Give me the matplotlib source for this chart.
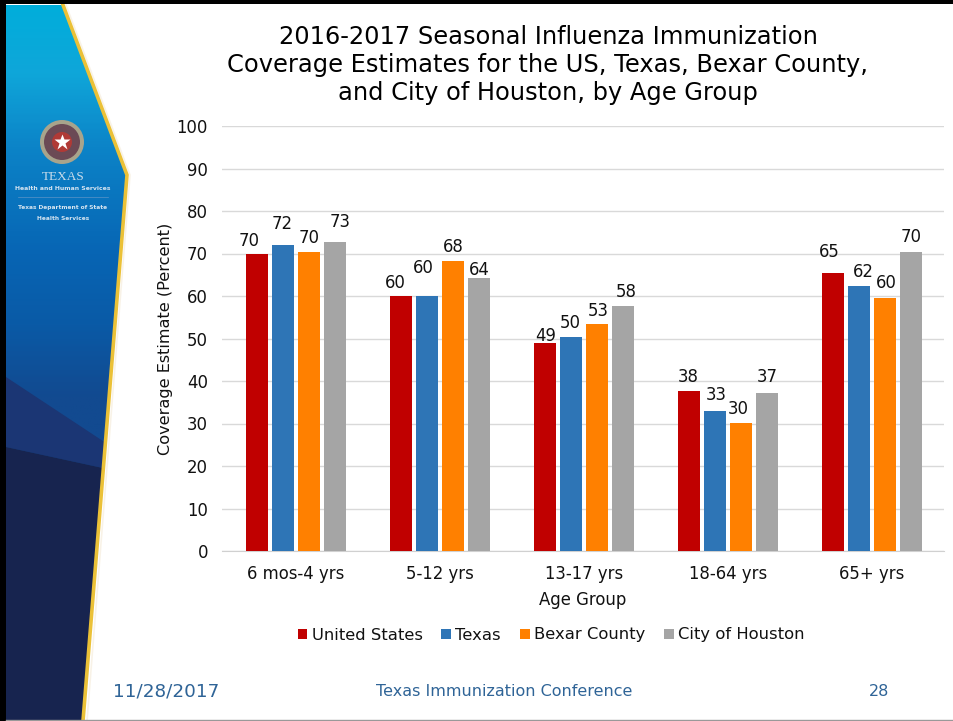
import numpy as np
import matplotlib
matplotlib.use("Agg")
import matplotlib.pyplot as plt
from matplotlib.colors import LinearSegmentedColormap
from matplotlib.patches import Polygon, Circle, Rectangle

# data
age_groups = ["6 mos-4 yrs", "5-12 yrs", "13-17 yrs", "18-64 yrs", "65+ yrs"]
united_states = [70, 60, 48.9, 37.6, 65.4]
texas = [72, 60, 50.4, 33, 62.3]
bexar = [70.4, 68.2, 53.4, 30.1, 59.5]
houston = [72.8, 64.2, 57.7, 37.2, 70.4]
us_labels = ["70", "60", "49", "38", "65"]
tx_labels = ["72", "60", "50", "33", "62"]
bx_labels = ["70", "68", "53", "30", "60"]
hou_labels = ["73", "64", "58", "37", "70"]
series_names = ["United States", "Texas", "Bexar County", "City of Houston"]
colors = ["#C00000", "#2E75B6", "#FF8000", "#A5A5A5"]
yticks = np.arange(0, 101, 10)

plt.rcParams["font.family"] = ["DejaVu Sans"]
W, H = 954, 721
fig = plt.figure(figsize=(W / 100, H / 100), dpi=100)

# slide background, in pixel coordinates
bg = fig.add_axes([0, 0, 1, 1])
bg.set_xlim(0, W)
bg.set_ylim(H, 0)
bg.axis("off")

panel_cmap = LinearSegmentedColormap.from_list("panel", [
    (0.0, "#00AEDB"), (0.1, "#0FA6D9"), (0.2, "#0C84C8"), (0.35, "#0765B4"),
    (0.45, "#0A5AA6"), (0.55, "#124A90"), (1.0, "#124A90")])
grad = np.linspace(0, 1, 400).reshape(-1, 1)
img = bg.imshow(grad, cmap=panel_cmap, extent=[6, 135, H, 0], aspect="auto", zorder=1)
edge = [(6, 5), (63, 5), (127, 175), (83, H), (6, H)]
clip = Polygon(edge, closed=True, transform=bg.transData, fc="none", ec="none")
bg.add_patch(clip)
img.set_clip_path(clip)
# darker facets low on the panel
wedge = Polygon([(6, 377), (112, 447), (112, 470), (6, 447)], fc="#1B3674", ec="none", zorder=1.5)
navy = Polygon([(6, 447), (112, 470), (112, H), (6, H)], fc="#17244F", ec="none", zorder=1.6)
for p in (wedge, navy):
    bg.add_patch(p)
    p.set_clip_path(clip)
bg.plot([63, 127, 83], [5, 175, 721], color="#EBC137", lw=2.6, zorder=3,
        solid_joinstyle="miter")
bg.plot([66, 130, 87], [5, 175, 721], color="#F3E7D0", lw=1.2, alpha=0.5, zorder=2)

# logo
bg.add_patch(Circle((62, 142), 22, fc="#A8A48C", ec="none", zorder=4))
bg.add_patch(Circle((62, 142), 18, fc="#6B4A55", ec="none", zorder=5))
bg.add_patch(Circle((62, 142), 10, fc="#B03A36", ec="none", zorder=6))
bg.plot([62], [142], marker="*", ms=12, color="white", mec="none", zorder=7)
bg.text(63, 177, "TEXAS", color="#C9DCEB", fontsize=9.5, family="Liberation Serif",
        ha="center", va="center", zorder=7)
bg.text(63, 189, "Health and Human Services", color="#D5E4F0", fontsize=4.4,
        fontweight="bold", ha="center", va="center", zorder=7)
bg.plot([18, 108], [197, 197], color="#5A94C8", lw=0.5, zorder=7)
bg.text(63, 208, "Texas Department of State", color="#D5E4F0", fontsize=4.2,
        fontweight="bold", ha="center", va="center", zorder=7)
bg.text(63, 218, "Health Services", color="#D5E4F0", fontsize=4.2,
        fontweight="bold", ha="center", va="center", zorder=7)

# slide frame
bg.add_patch(Rectangle((0, 0), W, 4, fc="black", ec="none", zorder=8))
bg.add_patch(Rectangle((0, 0), 6, H, fc="black", ec="none", zorder=8))
bg.plot([6, W], [720, 720], color="#999999", lw=1, zorder=8)

# title and footer
bg.text(548, 65, "2016-2017 Seasonal Influenza Immunization\n"
        "Coverage Estimates for the US, Texas, Bexar County,\n"
        "and City of Houston, by Age Group",
        fontsize=17.4, ha="center", va="center", color="black", linespacing=1.23)
footer = "#2F6497"
bg.text(166, 692, "11/28/2017", color=footer, fontsize=13.2, ha="center", va="center")
bg.text(504, 692, "Texas Immunization Conference", color=footer, fontsize=11.5,
        ha="center", va="center")
bg.text(879, 692, "28", color=footer, fontsize=11.5, ha="center", va="center")

# chart
ax = fig.add_axes([222 / W, 1 - 551 / H, (944 - 222) / W, (551 - 126) / H])
ax.patch.set_alpha(0)
x = np.arange(len(age_groups))
series = [united_states, texas, bexar, houston]
labels = [us_labels, tx_labels, bx_labels, hou_labels]
# label offsets in pixels from the bar top, they were moved by hand on the slide
label_dx = [[-8, -6, 0, -1, -4], [-1, -4, -1, 1, 4], [0, 0, 1, -3, 1], [5, 0, 3, 0, 0]]
label_dy = [[13, 13, 7, 14, 21], [21, 28, 14, 16, 14], [14, 14, 13, 14, 15], [20, 8, 14, 16, 15]]
width = 0.153
pitch = 0.18
for i, (vals, c) in enumerate(zip(series, colors)):
    pos = x + (i - 1.5) * pitch
    ax.bar(pos, vals, width, color=c, zorder=3, label=series_names[i])
    for j, v in enumerate(vals):
        ax.annotate(labels[i][j], (pos[j], v), xytext=(label_dx[i][j], label_dy[i][j]),
                    textcoords="offset pixels", ha="center", va="center",
                    fontsize=11.9, color="#111111", zorder=5)

ax.set_xlim(-0.514, 4.5)
ax.set_ylim(0, 100)
ax.set_yticks(yticks)
ax.set_xticks(x)
ax.set_xticklabels(age_groups)
ax.tick_params(axis="both", length=0, labelsize=11.9, labelcolor="#111111")
ax.tick_params(axis="x", pad=10)
ax.tick_params(axis="y", pad=10)
ax.grid(axis="y", color="#D9D9D9", lw=1, zorder=0)
ax.set_axisbelow(True)
for s in ["top", "left", "right"]:
    ax.spines[s].set_visible(False)
ax.spines["bottom"].set_color("#D0D0D0")
ax.set_xlabel("Age Group", fontsize=11.9, labelpad=6, color="#111111")
ax.set_ylabel("Coverage Estimate (Percent)", fontsize=11.6, labelpad=3, color="#111111")

fig.legend(*ax.get_legend_handles_labels(), loc="center", bbox_to_anchor=(551 / W, 1 - 635 / H),
           ncol=4, frameon=False, fontsize=11.8, handlelength=0.6, handleheight=0.6,
           handletextpad=0.25, columnspacing=1.15, labelcolor="#111111")

fig.savefig("out.png", dpi=100)
